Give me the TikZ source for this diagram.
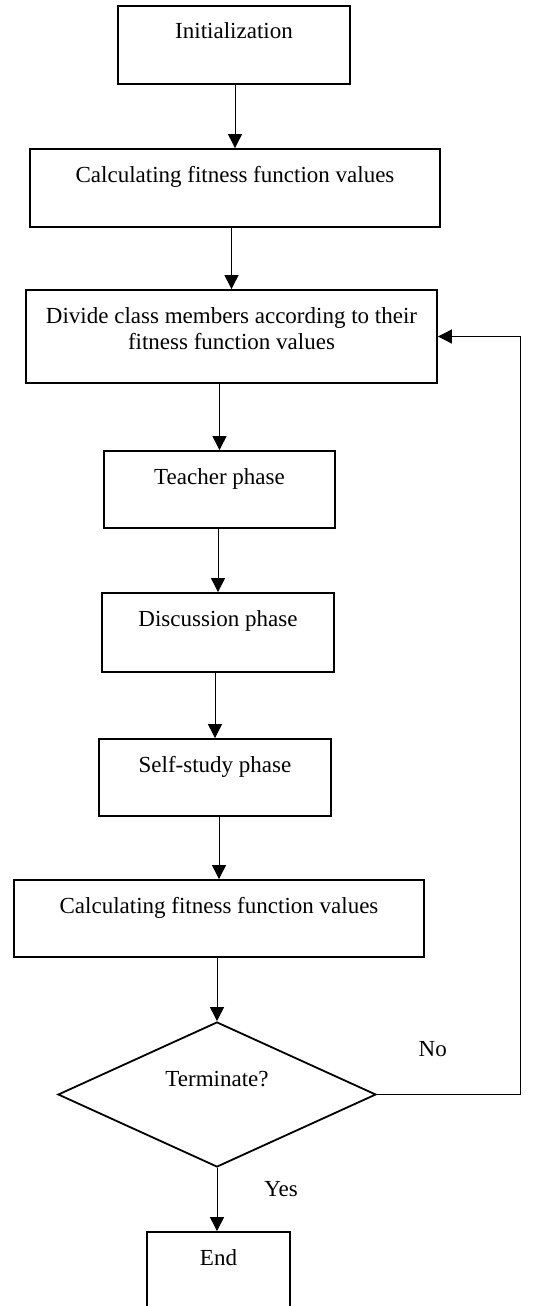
\documentclass[tikz,border=0pt]{standalone}
\usepackage{fontspec}
\setmainfont{Liberation Serif}
\usepackage{tikz}
\usetikzlibrary{shapes.geometric,arrows.meta}
\tikzstyle{process}=[rectangle,draw=black,line width=1.8pt,text centered,
inner ysep=17pt,text height=16pt,text depth=28pt]
\tikzstyle{decision}=[diamond,draw=black,line width=1.8pt,aspect=2.2,inner sep=0pt,
minimum width=318pt,minimum height=145pt,text height=16pt,text depth=32pt]
\tikzstyle{arrow}=[line width=0.9pt,-{Triangle[length=14pt,width=14pt]}]

\begin{document}
\begin{tikzpicture}[font=\fontsize{23}{26}\selectfont]
    \useasboundingbox (0,0) rectangle (534pt,-1306pt);
        \node (start) [process,minimum width=232pt] at (234pt,-45pt) {Initialization};
        \node (p1) [process,minimum width=410pt,node distance=143pt,below of=start,xshift=1pt] {Calculating fitness function values};
        \node (p2) [process,minimum width=411pt,align=center,text height=42pt,text depth=17pt,node distance=148.5pt,below of=p1,xshift=-3.5pt] {Divide class members according to their\\fitness function values};
        \node (p3) [process,minimum width=231pt,text depth=27pt,node distance=153pt,below of=p2,xshift=-12pt] {Teacher phase};
        \node (p4) [process,minimum width=232pt,text depth=29pt,node distance=143pt,below of=p3,xshift=-1.5pt] {Discussion phase};
        \node (p5) [process,minimum width=232pt,text depth=27pt,node distance=145pt,below of=p4,xshift=-3pt] {Self-study phase};
        \node (p6) [process,minimum width=410pt,text depth=27pt,node distance=141pt,below of=p5,xshift=4pt] {Calculating fitness function values};
        \node (dec) [decision,node distance=176pt,below of=p6,xshift=-2pt] {Terminate?};
        \node (stop) [process,minimum width=143pt,node distance=176.5pt,below of=dec,xshift=1.5pt] {End};
        \coordinate [node distance=303pt,right of=dec] (back);

        \draw [arrow] (start.south -| p1.north) -- (p1.north);
        \draw [arrow] (p1.south -| p2.north) -- (p2.north);
        \draw [arrow] (p2.south -| p3.north) -- (p3.north);
        \draw [arrow] (p3.south -| p4.north) -- (p4.north);
        \draw [arrow] (p4.south -| p5.north) -- (p5.north);
        \draw [arrow] (p5.south -| p6.north) -- (p6.north);
        \draw [arrow] (p6.south -| dec.north) -- (dec.north);
        \draw [arrow] (dec.south) -- node[pos=0.34,xshift=64pt] {Yes} (dec.south |- stop.north);
        \draw [arrow] (dec.east) -- node[pos=0.39,yshift=45pt] {No} (back) |- (p2.east);

    \end{tikzpicture}
\end{document}
